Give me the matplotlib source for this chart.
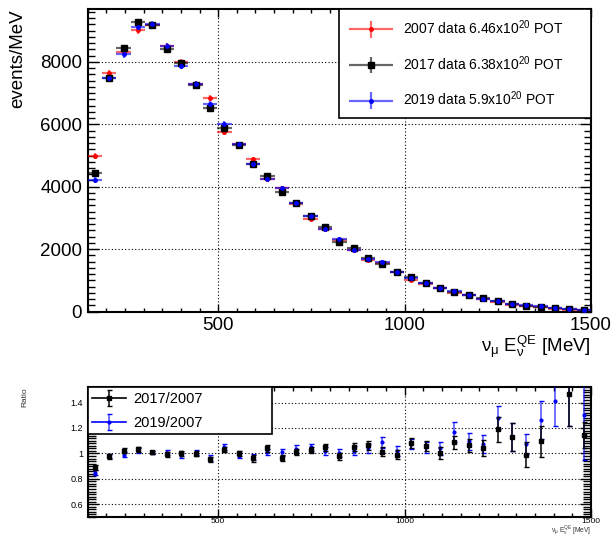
import numpy as np
import matplotlib
matplotlib.use("Agg")
import matplotlib.pyplot as plt
from matplotlib.ticker import MultipleLocator, FuncFormatter
from matplotlib.legend_handler import HandlerErrorbar

plt.rcParams["font.family"] = ["Liberation Sans", "DejaVu Sans"]
plt.rcParams["mathtext.fontset"] = "custom"
plt.rcParams["mathtext.rm"] = "Liberation Sans"
plt.rcParams["mathtext.it"] = "Liberation Sans:italic"

# binning: 35 bins, 150 - 1500 MeV
e_min, e_max, n_bins = 150.0, 1500.0, 35

# events/MeV
counts_2007 = [4992, 7640, 8320, 9013, 9163, 8500, 7979, 7285, 6848, 5760,
               5355, 4875, 4245, 3947, 3445, 2965, 2635, 2293, 1973, 1653,
               1547, 1280, 1013, 885, 747, 587, 533, 405, 296, 226,
               194, 146, 70, 59, 47]
counts_2017 = [4448, 7488, 8448, 9270, 9173, 8416, 7947, 7264, 6528, 5888,
               5333, 4715, 4352, 3840, 3488, 3061, 2720, 2240, 2048, 1728,
               1515, 1280, 1099, 928, 747, 640, 533, 427, 352, 256,
               192, 160, 118, 86, 54]
counts_2019 = [4213, 7467, 8235, 9120, 9195, 8512, 7872, 7285, 6645, 6016,
               5355, 4725, 4256, 3947, 3488, 3061, 2645, 2325, 1973, 1696,
               1600, 1280, 1077, 907, 747, 672, 533, 405, 341, 256,
               200, 170, 105, 86, 60]
counts_err = [90, 100, 105, 110, 110, 105, 100, 95, 95, 90,
              85, 80, 75, 72, 68, 64, 60, 56, 52, 48,
              45, 42, 38, 35, 32, 30, 28, 25, 22, 20,
              18, 16, 14, 12, 10]

# ratios to 2007
ratio_2017 = [0.891, 0.979, 1.021, 1.034, 1.008, 0.992, 1.000, 0.997, 0.953, 1.029,
              1.000, 0.961, 1.039, 0.964, 1.010, 1.029, 1.047, 0.977, 1.052, 1.065,
              1.013, 0.990, 1.083, 1.057, 1.005, 1.086, 1.065, 1.042, 1.190, 1.132,
              0.990, 1.094, 1.800, 1.466, 1.146]
ratio_2017_err = [0.02, 0.02, 0.02, 0.02, 0.015, 0.02, 0.02, 0.02, 0.02, 0.02,
                  0.02, 0.025, 0.025, 0.025, 0.025, 0.025, 0.03, 0.03, 0.03, 0.035,
                  0.035, 0.035, 0.04, 0.04, 0.045, 0.05, 0.05, 0.06, 0.10, 0.11,
                  0.10, 0.125, 0.20, 0.25, 0.10]
ratio_2019 = [0.847, 0.980, 0.990, 1.020, 1.008, 1.005, 0.987, 1.005, 0.964, 1.052,
              0.982, 0.974, 1.010, 1.008, 1.034, 1.047, 1.020, 1.003, 1.020, 1.040,
              1.086, 1.020, 1.073, 1.047, 1.040, 1.170, 1.094, 1.073, 1.280, 1.132,
              1.073, 1.260, 1.416, 1.466, 1.300]
ratio_2019_err = [0.02, 0.015, 0.02, 0.02, 0.015, 0.02, 0.02, 0.02, 0.02, 0.025,
                  0.02, 0.025, 0.025, 0.025, 0.03, 0.03, 0.03, 0.03, 0.035, 0.035,
                  0.04, 0.04, 0.04, 0.045, 0.05, 0.08, 0.07, 0.07, 0.09, 0.11,
                  0.08, 0.15, 0.20, 0.25, 0.35]

labels_top = [r"2007 data 6.46x10$^{20}$ POT",
              r"2017 data 6.38x10$^{20}$ POT",
              r"2019 data 5.9x10$^{20}$ POT"]
labels_ratio = ["2017/2007", "2019/2007"]
xlabel = r"$\mathrm{\nu_{\mu}\ E_{\nu}^{QE}}$ [MeV]"

edges = np.linspace(e_min, e_max, n_bins + 1)
centers = 0.5 * (edges[:-1] + edges[1:])
half_w = 0.5 * (edges[1] - edges[0])


class LineErrorbar(HandlerErrorbar):
    # draw a horizontal line through the handle, like ROOT does
    def create_artists(self, *args, **kwargs):
        artists = super().create_artists(*args, **kwargs)
        artists[-2].set_linestyle("-")
        artists[-2].set_linewidth(1.2)
        return artists


fig = plt.figure(figsize=(6.15, 5.37), dpi=100)
ax1 = fig.add_axes([0.1426, 0.4196, 0.8184, 0.5636])
ax2 = fig.add_axes([0.1426, 0.0372, 0.8184, 0.2416])


def style_axes(ax, xlabsize, ylabsize, ypad, xpad):
    for s in ax.spines.values():
        s.set_linewidth(1.5)
    ax.tick_params(which="both", direction="in", top=True, right=True, width=1.0)
    ax.tick_params(axis="x", which="major", length=6, labelsize=xlabsize, pad=xpad)
    ax.tick_params(axis="x", which="minor", length=3)
    ax.tick_params(axis="y", which="major", length=8, labelsize=ylabsize, pad=ypad)
    ax.tick_params(axis="y", which="minor", length=5)
    ax.grid(True, which="major", color="black", linestyle=(0, (1, 2)), linewidth=0.8)
    ax.set_axisbelow(False)


# ---- top panel ----
series = [
    (counts_2007, "red", "o", 2.5),
    (counts_2017, "black", "s", 4.0),
    (counts_2019, "blue", "o", 2.5),
]
handles = []
for (vals, col, mk, ms), lab in zip(series, labels_top):
    h = ax1.errorbar(centers, vals, xerr=half_w, yerr=counts_err, fmt=mk,
                     color=col, ms=ms, ecolor=col, elinewidth=1.6, capsize=0,
                     label=lab, zorder=3)
    for lc in h[2]:
        lc.set_alpha(0.6)
    handles.append(h)

ax1.set_xlim(e_min, e_max)
ax1.set_ylim(0, 9690)
ax1.xaxis.set_major_locator(MultipleLocator(500))
ax1.xaxis.set_minor_locator(MultipleLocator(50))
ax1.yaxis.set_major_locator(MultipleLocator(2000))
ax1.yaxis.set_minor_locator(MultipleLocator(200))
style_axes(ax1, 13.5, 13.5, 4, 4)

leg1 = ax1.legend(handles=handles, loc="upper left",
                  bbox_to_anchor=(0.499, 0.0, 0.501, 1.0), mode="expand",
                  fontsize=10, frameon=True, fancybox=False, framealpha=1,
                  edgecolor="black", borderpad=0.7, labelspacing=1.22,
                  handlelength=3.2, handletextpad=0.7, borderaxespad=0,
                  handler_map={type(handles[0]): HandlerErrorbar(xerr_size=1.6, yerr_size=0.6)})
leg1.get_frame().set_linewidth(1.2)
leg1.set_zorder(5)

fig.text(18 / 615, 1 - 9 / 537, "events/MeV", rotation=90, ha="center", va="top", fontsize=13.5)
fig.text(0.961, 1 - 352 / 537, xlabel, ha="right", va="baseline", fontsize=13.5)

# ---- ratio panel ----
h1 = ax2.errorbar(centers, ratio_2017, yerr=ratio_2017_err, fmt="s", color="black",
                  ms=3.5, elinewidth=1.1, capsize=1.8, capthick=1.0, zorder=4,
                  label=labels_ratio[0])
h2 = ax2.errorbar(centers, ratio_2019, yerr=ratio_2019_err, fmt="o", color="blue",
                  ms=2.0, elinewidth=1.1, capsize=1.8, capthick=1.0, zorder=3,
                  label=labels_ratio[1])
for lc in h2[2]:
    lc.set_alpha(0.7)

ax2.set_xlim(e_min, e_max)
ax2.set_ylim(0.5, 1.52)
ax2.xaxis.set_major_locator(MultipleLocator(500))
ax2.xaxis.set_minor_locator(MultipleLocator(50))
ax2.yaxis.set_major_locator(MultipleLocator(0.2))
ax2.yaxis.set_minor_locator(MultipleLocator(0.02))
ax2.yaxis.set_major_formatter(FuncFormatter(lambda v, p: "%g" % round(v, 2)))
style_axes(ax2, 6, 6.5, 3.5, 0.6)
ax2.tick_params(axis="y", which="minor", length=6)
ax2.tick_params(axis="x", which="minor", length=3)

leg2 = ax2.legend(handles=[h1, h2], loc="upper left",
                  bbox_to_anchor=(0.0, 0.0, 0.366, 1.0), mode="expand",
                  fontsize=10.5, frameon=True, fancybox=False, framealpha=1,
                  edgecolor="black", borderpad=0.3, labelspacing=0.7,
                  handlelength=2.3, handletextpad=0.5, borderaxespad=0,
                  handler_map={type(h1): LineErrorbar(yerr_size=0.55)})
leg2.get_frame().set_linewidth(1.2)
leg2.set_zorder(5)

fig.text(25 / 615, 1 - 387 / 537, "Ratio", rotation=90, ha="center", va="top",
         fontsize=6, color="#333333")
fig.text(0.961, 0.0, xlabel, ha="right", va="bottom", fontsize=4.8, color="#333333")

fig.savefig("out.png", dpi=100)
plt.close(fig)
